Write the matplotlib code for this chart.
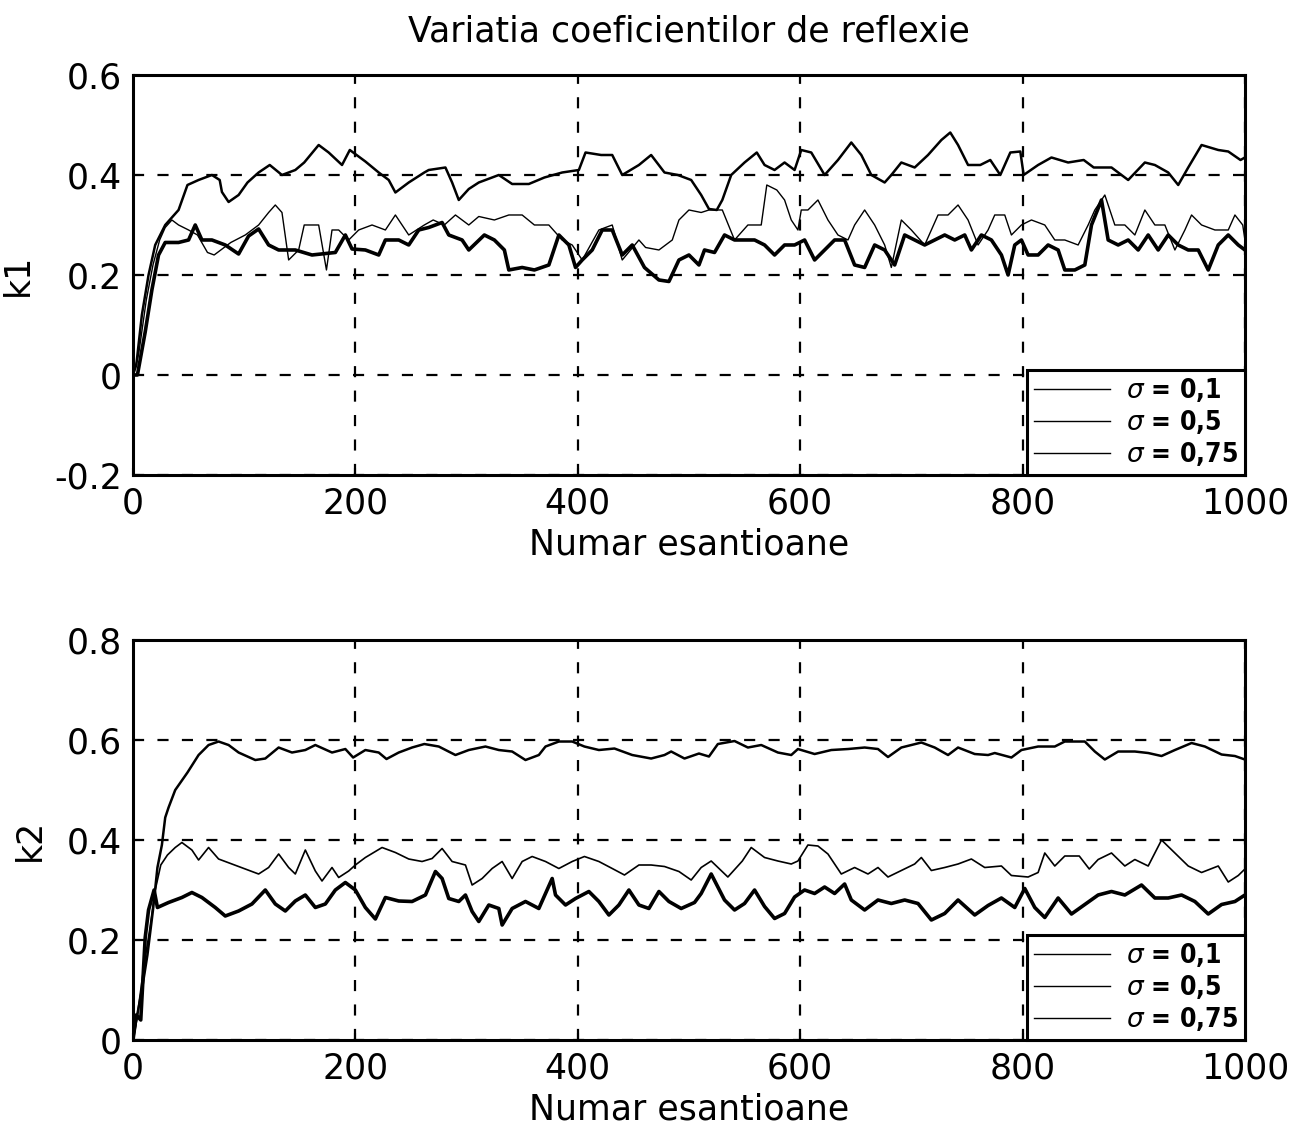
import matplotlib
matplotlib.use("Agg")
import matplotlib.pyplot as plt

# k1 - reflection coefficient 1
k1_s01_x = [0, 3, 8, 14, 20, 29, 41, 49, 59, 71, 78, 80, 86, 95, 103, 113, 123, 134, 146, 154,
            167, 176, 188, 195, 209, 221, 230, 236, 248, 262, 266, 281, 287, 293, 302, 311, 329,
            341, 356, 370, 386, 401, 407, 421, 431, 440, 455, 466, 478, 490, 502, 511, 518, 525,
            530, 538, 550, 561, 568, 577, 586, 595, 601, 610, 622, 634, 646, 655, 664, 676, 682,
            691, 703, 715, 727, 735, 742, 751, 762, 771, 780, 789, 798, 801, 814, 826, 841, 855,
            864, 880, 895, 910, 919, 931, 940, 949, 961, 976, 985, 996, 1000]
k1_s01_y = [0.0, 0.02, 0.12, 0.2, 0.26, 0.3, 0.33, 0.38, 0.39, 0.4, 0.39, 0.366, 0.346, 0.36,
            0.385, 0.405, 0.42, 0.4, 0.41, 0.425, 0.46, 0.445, 0.42, 0.45, 0.427, 0.405, 0.39,
            0.365, 0.385, 0.405, 0.41, 0.415, 0.385, 0.35, 0.372, 0.385, 0.4, 0.382, 0.382, 0.395,
            0.405, 0.41, 0.445, 0.44, 0.44, 0.4, 0.42, 0.44, 0.405, 0.4, 0.39, 0.36, 0.332, 0.33,
            0.35, 0.4, 0.425, 0.445, 0.42, 0.41, 0.425, 0.41, 0.45, 0.445, 0.4, 0.43, 0.465, 0.44,
            0.4, 0.385, 0.4, 0.425, 0.415, 0.44, 0.47, 0.485, 0.46, 0.42, 0.42, 0.43, 0.4, 0.445,
            0.447, 0.4, 0.42, 0.435, 0.425, 0.43, 0.415, 0.415, 0.39, 0.425, 0.42, 0.405, 0.38,
            0.415, 0.46, 0.45, 0.447, 0.43, 0.435]

k1_s05_x = [0, 5, 12, 18, 24, 29, 35, 41, 50, 58, 67, 73, 88, 101, 113, 122, 128, 134, 140, 149,
            154, 167, 174, 179, 185, 194, 203, 215, 227, 236, 248, 262, 270, 280, 290, 302, 311,
            325, 338, 350, 361, 374, 386, 395, 404, 419, 431, 440, 455, 461, 473, 485, 491, 500,
            511, 518, 530, 541, 553, 565, 570, 579, 586, 592, 598, 601, 607, 616, 625, 634, 643,
            649, 658, 667, 676, 682, 691, 700, 712, 724, 733, 742, 751, 760, 769, 775, 784, 790,
            799, 808, 820, 829, 838, 850, 859, 865, 874, 883, 892, 901, 910, 919, 928, 937, 946,
            952, 961, 973, 985, 991, 998, 1000]
k1_s05_y = [0.0, 0.04, 0.15, 0.22, 0.27, 0.295, 0.31, 0.3, 0.29, 0.28, 0.245, 0.24, 0.265, 0.28,
            0.3, 0.325, 0.34, 0.325, 0.23, 0.25, 0.3, 0.3, 0.21, 0.29, 0.29, 0.27, 0.29, 0.3, 0.29,
            0.32, 0.28, 0.3, 0.31, 0.3, 0.32, 0.3, 0.317, 0.31, 0.32, 0.32, 0.3, 0.3, 0.27, 0.26,
            0.23, 0.29, 0.3, 0.23, 0.27, 0.255, 0.25, 0.27, 0.31, 0.33, 0.325, 0.33, 0.33, 0.27,
            0.3, 0.3, 0.38, 0.37, 0.35, 0.31, 0.29, 0.33, 0.33, 0.35, 0.31, 0.28, 0.27, 0.3, 0.33,
            0.3, 0.26, 0.215, 0.31, 0.29, 0.26, 0.32, 0.32, 0.34, 0.31, 0.26, 0.29, 0.32, 0.32,
            0.28, 0.3, 0.31, 0.3, 0.27, 0.27, 0.26, 0.3, 0.33, 0.36, 0.3, 0.3, 0.28, 0.33, 0.3,
            0.3, 0.25, 0.29, 0.32, 0.3, 0.29, 0.29, 0.32, 0.3, 0.27]

k1_s075_x = [0, 4, 11, 17, 23, 29, 41, 50, 56, 62, 71, 83, 95, 104, 113, 122, 131, 146, 161, 182,
             191, 197, 209, 221, 227, 239, 248, 257, 266, 278, 284, 296, 302, 316, 325, 334, 338,
             350, 361, 374, 383, 392, 398, 404, 413, 422, 431, 440, 449, 460, 473, 482, 491, 500,
             509, 514, 523, 532, 541, 550, 559, 568, 577, 586, 595, 604, 613, 622, 631, 640, 649,
             658, 667, 676, 685, 694, 703, 712, 721, 730, 739, 748, 754, 763, 772, 781, 787, 793,
             799, 805, 814, 823, 832, 838, 847, 856, 862, 871, 877, 886, 895, 904, 913, 922, 931,
             940, 949, 958, 967, 976, 985, 994, 1000]
k1_s075_y = [0.0, 0.0, 0.086, 0.17, 0.24, 0.265, 0.265, 0.27, 0.3, 0.27, 0.27, 0.26, 0.242, 0.278,
             0.292, 0.26, 0.25, 0.25, 0.24, 0.245, 0.28, 0.252, 0.25, 0.24, 0.27, 0.27, 0.26, 0.29,
             0.295, 0.305, 0.28, 0.27, 0.25, 0.28, 0.27, 0.25, 0.21, 0.215, 0.21, 0.22, 0.28, 0.26,
             0.215, 0.23, 0.25, 0.29, 0.29, 0.24, 0.26, 0.215, 0.19, 0.187, 0.23, 0.24, 0.22, 0.25,
             0.245, 0.28, 0.27, 0.27, 0.27, 0.26, 0.24, 0.26, 0.26, 0.27, 0.23, 0.25, 0.27, 0.27,
             0.22, 0.215, 0.26, 0.25, 0.22, 0.28, 0.27, 0.26, 0.27, 0.28, 0.27, 0.28, 0.25, 0.28,
             0.27, 0.24, 0.2, 0.26, 0.27, 0.24, 0.24, 0.26, 0.25, 0.21, 0.21, 0.22, 0.3, 0.35, 0.27,
             0.26, 0.27, 0.25, 0.28, 0.25, 0.28, 0.26, 0.25, 0.25, 0.21, 0.26, 0.28, 0.26, 0.25]

# k2 - reflection coefficient 2
k2_s01_x = [0, 3, 8, 13, 18, 22, 26, 29, 32, 38, 49, 59, 68, 77, 86, 95, 110, 119, 131, 143, 155,
            164, 179, 191, 198, 209, 221, 228, 239, 251, 262, 275, 290, 302, 317, 329, 341, 353,
            365, 371, 383, 395, 406, 419, 433, 449, 466, 478, 484, 496, 509, 518, 526, 541, 553,
            565, 580, 592, 598, 613, 628, 643, 658, 670, 679, 691, 709, 721, 733, 742, 757, 769,
            775, 790, 799, 814, 829, 838, 856, 865, 874, 886, 901, 913, 925, 937, 952, 964, 979,
            991, 1000]
k2_s01_y = [0.0, 0.04, 0.1, 0.17, 0.26, 0.345, 0.39, 0.445, 0.465, 0.5, 0.535, 0.57, 0.59, 0.597,
            0.59, 0.575, 0.56, 0.563, 0.585, 0.575, 0.58, 0.59, 0.575, 0.582, 0.565, 0.58, 0.575,
            0.562, 0.575, 0.585, 0.592, 0.587, 0.57, 0.58, 0.587, 0.58, 0.577, 0.56, 0.57, 0.587,
            0.597, 0.597, 0.587, 0.58, 0.583, 0.57, 0.563, 0.57, 0.577, 0.563, 0.573, 0.567, 0.592,
            0.598, 0.585, 0.59, 0.575, 0.57, 0.582, 0.572, 0.58, 0.582, 0.585, 0.582, 0.566, 0.585,
            0.595, 0.585, 0.57, 0.585, 0.572, 0.57, 0.574, 0.565, 0.58, 0.587, 0.587, 0.597, 0.597,
            0.577, 0.561, 0.577, 0.577, 0.574, 0.568, 0.58, 0.594, 0.587, 0.571, 0.568, 0.561]

k2_s05_x = [0, 4, 10, 15, 20, 25, 31, 38, 44, 53, 59, 68, 77, 89, 101, 113, 122, 131, 140, 146,
            155, 164, 170, 179, 185, 194, 200, 209, 224, 236, 248, 260, 269, 278, 287, 299, 305,
            314, 323, 332, 341, 350, 359, 371, 383, 395, 406, 419, 431, 442, 455, 466, 478, 491,
            502, 511, 520, 535, 548, 556, 568, 580, 592, 598, 607, 616, 625, 637, 649, 661, 670,
            679, 691, 703, 709, 718, 730, 742, 754, 766, 781, 790, 805, 814, 820, 829, 838, 851,
            860, 868, 880, 892, 901, 913, 925, 937, 949, 961, 976, 985, 994, 1000]
k2_s05_y = [0.0, 0.05, 0.15, 0.22, 0.3, 0.35, 0.37, 0.385, 0.395, 0.38, 0.36, 0.385, 0.362, 0.352,
            0.342, 0.332, 0.345, 0.372, 0.345, 0.332, 0.38, 0.338, 0.318, 0.345, 0.325, 0.338,
            0.35, 0.365, 0.385, 0.375, 0.362, 0.357, 0.363, 0.383, 0.357, 0.35, 0.31, 0.323, 0.343,
            0.357, 0.323, 0.357, 0.367, 0.357, 0.343, 0.357, 0.367, 0.357, 0.343, 0.33, 0.35, 0.35,
            0.347, 0.337, 0.32, 0.345, 0.358, 0.326, 0.358, 0.385, 0.365, 0.358, 0.352, 0.358,
            0.39, 0.388, 0.372, 0.332, 0.345, 0.332, 0.345, 0.326, 0.339, 0.352, 0.365, 0.339,
            0.345, 0.352, 0.362, 0.345, 0.348, 0.329, 0.326, 0.335, 0.374, 0.348, 0.368, 0.368,
            0.342, 0.361, 0.374, 0.348, 0.361, 0.348, 0.4, 0.374, 0.348, 0.335, 0.348, 0.316,
            0.329, 0.342]

k2_s075_x = [0, 3, 7, 11, 14, 19, 22, 32, 44, 53, 62, 74, 83, 95, 107, 119, 128, 137, 146, 155,
             164, 173, 182, 191, 200, 209, 218, 227, 239, 251, 263, 272, 278, 284, 293, 299, 305,
             311, 320, 329, 332, 341, 353, 365, 377, 380, 389, 398, 410, 419, 428, 437, 446, 455,
             464, 473, 482, 493, 505, 511, 520, 532, 541, 550, 559, 568, 577, 586, 595, 604, 613,
             622, 631, 640, 646, 658, 670, 682, 694, 706, 718, 730, 742, 757, 769, 781, 793, 802,
             811, 820, 832, 844, 856, 868, 880, 892, 907, 919, 931, 943, 955, 967, 979, 991, 1000]
k2_s075_y = [0.0, 0.05, 0.04, 0.205, 0.26, 0.3, 0.265, 0.275, 0.285, 0.295, 0.285, 0.265, 0.248,
             0.258, 0.272, 0.3, 0.272, 0.258, 0.278, 0.29, 0.265, 0.272, 0.3, 0.315, 0.3, 0.265,
             0.242, 0.285, 0.278, 0.277, 0.29, 0.337, 0.323, 0.283, 0.277, 0.29, 0.257, 0.237, 0.27,
             0.263, 0.23, 0.263, 0.277, 0.263, 0.323, 0.29, 0.27, 0.283, 0.297, 0.277, 0.25, 0.27,
             0.3, 0.27, 0.263, 0.297, 0.277, 0.263, 0.275, 0.293, 0.332, 0.28, 0.26, 0.273, 0.3,
             0.267, 0.243, 0.253, 0.286, 0.3, 0.293, 0.306, 0.293, 0.312, 0.28, 0.26, 0.28, 0.273,
             0.28, 0.273, 0.24, 0.253, 0.28, 0.25, 0.269, 0.284, 0.265, 0.303, 0.265, 0.245, 0.284,
             0.252, 0.271, 0.29, 0.297, 0.29, 0.31, 0.284, 0.284, 0.29, 0.277, 0.252, 0.271, 0.277,
             0.29]

legend_labels = [r"$\sigma$ = 0,1", r"$\sigma$ = 0,5", r"$\sigma$ = 0,75"]
k1_ticks = [-0.2, 0, 0.2, 0.4, 0.6]
k2_ticks = [0, 0.2, 0.4, 0.6, 0.8]
x_ticks = [0, 200, 400, 600, 800, 1000]

plt.rcParams["font.family"] = ["DejaVu Sans"]
plt.rcParams["mathtext.fontset"] = "dejavusans"


def style_axes(ax, yticks, ylabel):
    ax.set_xlim(0, 1000)
    ax.set_ylim(yticks[0], yticks[-1])
    ax.set_xticks(x_ticks)
    ax.set_yticks(yticks)
    ax.set_yticklabels(["0" if t == 0 else f"{t:g}" for t in yticks])
    ax.tick_params(direction="in", length=5, width=1.5, labelsize=25, pad=8)
    ax.grid(True, color="black", linestyle=(0, (5, 6)), linewidth=1.6)
    for sp in ax.spines.values():
        sp.set_linewidth(2.2)
    ax.set_xlabel("Numar esantioane", fontsize=25, labelpad=5)
    ax.set_ylabel(ylabel, fontsize=25, labelpad=14)
    # condensed bold-ish legend text like the scanned original
    leg = ax.legend(legend_labels, loc="lower right", borderaxespad=0, fancybox=False,
                    framealpha=1, edgecolor="black", handlelength=2.9,
                    labelspacing=0.15, borderpad=0.25, handletextpad=0.6,
                    prop={"family": ["DejaVu Sans"], "size": 19, "stretch": "condensed",
                          "weight": "bold"})
    leg.get_frame().set_linewidth(2.2)
    for line in leg.get_lines():
        line.set_linewidth(1.0)


fig = plt.figure(figsize=(12.96, 11.33), dpi=100)

ax1 = fig.add_axes([0.1026, 0.5808, 0.858, 0.353])
ax1.plot(k1_s01_x, k1_s01_y, color="black", linewidth=1.8)
ax1.plot(k1_s05_x, k1_s05_y, color="black", linewidth=1.0)
ax1.plot(k1_s075_x, k1_s075_y, color="black", linewidth=2.6)
style_axes(ax1, k1_ticks, "k1")
ax1.set_title("Variatia coeficientilor de reflexie", fontsize=25, pad=24)

ax2 = fig.add_axes([0.1026, 0.0821, 0.858, 0.353])
ax2.plot(k2_s01_x, k2_s01_y, color="black", linewidth=1.8)
ax2.plot(k2_s05_x, k2_s05_y, color="black", linewidth=1.2)
ax2.plot(k2_s075_x, k2_s075_y, color="black", linewidth=2.6)
style_axes(ax2, k2_ticks, "k2")

fig.savefig("out.png", dpi=100)
